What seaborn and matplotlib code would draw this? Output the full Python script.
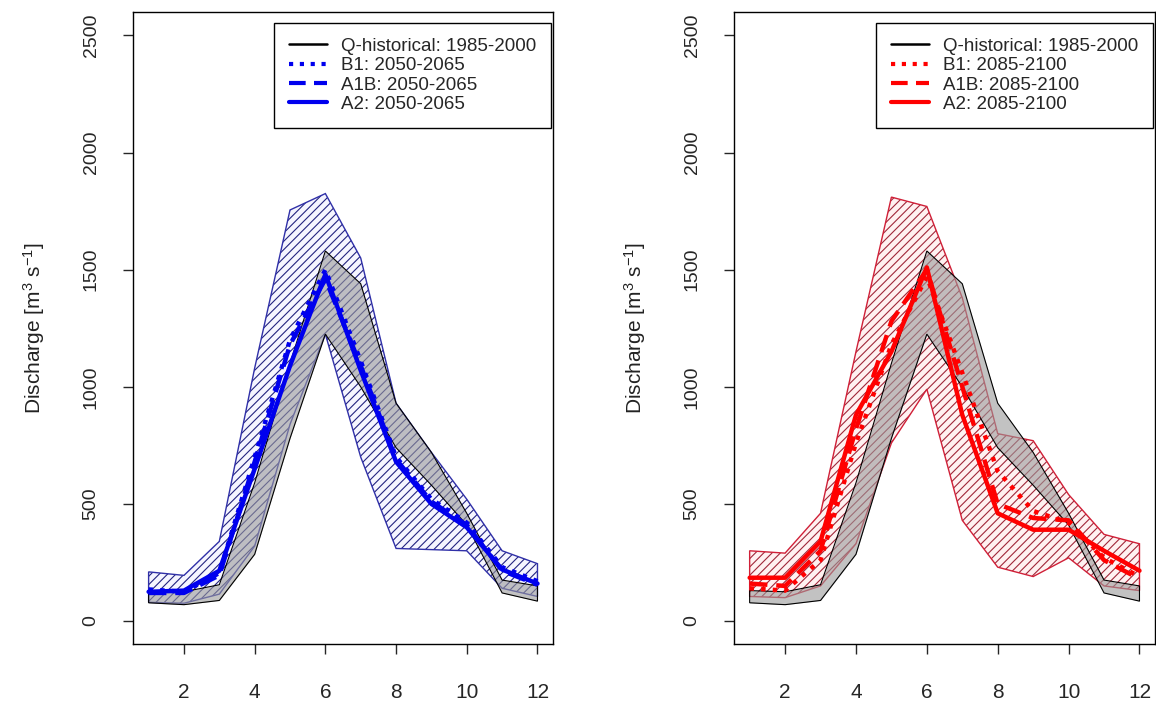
import numpy as np
import pandas as pd
import matplotlib
matplotlib.use("Agg")
import matplotlib.pyplot as plt
from matplotlib.lines import Line2D
import seaborn as sns

months = [1, 2, 3, 4, 5, 6, 7, 8, 9, 10, 11, 12]

# historical range (grey band)
hist_low = [78, 70, 88, 285, 780, 1225, 1000, 740, 580, 410, 120, 85]
hist_high = [130, 125, 155, 590, 1100, 1580, 1440, 930, 720, 460, 175, 150]

# 2050-2065 scenarios (left panel)
mid_low = [80, 76, 115, 320, 840, 1225, 700, 310, 305, 300, 140, 105]
mid_high = [210, 195, 340, 1080, 1755, 1825, 1550, 930, 720, 520, 300, 245]
mid_b1 = [135, 125, 205, 700, 1200, 1500, 1110, 700, 520, 420, 230, 170]
mid_a1b = [120, 120, 195, 680, 1180, 1460, 1090, 690, 510, 410, 215, 155]
mid_a2 = [125, 130, 215, 650, 1090, 1480, 1070, 680, 500, 400, 220, 160]

# 2085-2100 scenarios (right panel)
end_low = [105, 100, 150, 330, 760, 990, 430, 230, 190, 270, 150, 130]
end_high = [300, 290, 460, 1150, 1810, 1770, 1380, 800, 770, 540, 370, 330]
end_b1 = [140, 130, 260, 760, 1180, 1470, 1060, 640, 470, 420, 270, 190]
end_a1b = [160, 150, 300, 820, 1280, 1500, 1000, 500, 440, 430, 260, 180]
end_a2 = [185, 185, 340, 880, 1150, 1510, 880, 460, 390, 390, 300, 215]

hist_label = "Q-historical: 1985-2000"
scen_names = ["B1", "A1B", "A2"]
periods = ["2050-2065", "2085-2100"]

sns.set_theme(style="ticks")
plt.rcParams["font.family"] = ["Liberation Sans", "DejaVu Sans"]
plt.rcParams["hatch.linewidth"] = 0.8
plt.rcParams["mathtext.fontset"] = "custom"
plt.rcParams["mathtext.rm"] = "Liberation Sans"
plt.rcParams["mathtext.it"] = "Liberation Sans"

fig = plt.figure(figsize=(11.56, 7.09), dpi=100)
ax1 = fig.add_axes([0.1151, 0.091, 0.3633, 0.892])
ax2 = fig.add_axes([0.6350, 0.091, 0.3642, 0.892])

styles = [(0, (1, 1.6)), (0, (4, 2)), "-"]

panels = [
    (ax1, mid_low, mid_high, [mid_b1, mid_a1b, mid_a2], "#0000ee", "#3030a8", "#242480",
     (0.85, 0.86, 1.0, 0.25), periods[0]),
    (ax2, end_low, end_high, [end_b1, end_a1b, end_a2], "#ff0000", "#d02038", "#a0283a",
     (1.0, 0.85, 0.85, 0.35), periods[1]),
]

for ax, lo, hi, scen, col, ecol, hcol, fcol, per in panels:
    # scenario range, hatched
    ax.fill_between(months, lo, hi, facecolor=fcol, edgecolor=hcol, hatch="////",
                    linewidth=0, zorder=1)
    poly_x = months + months[::-1]
    poly_y = list(hi) + list(lo)[::-1]
    ax.fill(poly_x, poly_y, facecolor="none", edgecolor=ecol, linewidth=1.0, zorder=2)

    # historical range, grey
    ax.fill_between(months, hist_low, hist_high, color="#9a9a9a", alpha=0.6,
                    linewidth=0, zorder=3)
    hx = months + months[::-1]
    hy = hist_high + hist_low[::-1]
    ax.fill(hx, hy, facecolor="none", edgecolor="black", linewidth=0.8, zorder=4)

    for vals, ls in zip(scen, styles):
        df = pd.DataFrame({"month": months, "Q": vals})
        sns.lineplot(data=df, x="month", y="Q", ax=ax, color=col, linewidth=3.2,
                     linestyle=ls, zorder=5)

    ax.set_xlim(0.56, 12.44)
    ax.set_ylim(-100, 2600)
    ax.set_xticks([2, 4, 6, 8, 10, 12])
    ax.set_yticks([0, 500, 1000, 1500, 2000, 2500])
    ax.set_xlabel("")
    ax.set_ylabel("Discharge [m$^3$ s$^{-1}$]", fontsize=15, color="#222222")
    ax.yaxis.set_label_coords(-0.205, 0.5)
    ax.tick_params(axis="x", direction="out", length=7, width=1, pad=21, labelsize=15)
    ax.tick_params(axis="y", direction="out", length=7, width=1, pad=17, labelsize=14,
                   labelrotation=90)
    for t in ax.get_yticklabels():
        t.set_va("center")
    for s in ax.spines.values():
        s.set_visible(True)
        s.set_linewidth(1.0)
        s.set_color("black")

    handles = [Line2D([0], [0], color="black", linewidth=1.8)]
    for name, ls in zip(scen_names, styles):
        handles.append(Line2D([0], [0], color=col, linewidth=3, linestyle=ls))
    labels = [hist_label] + [f"{n}: {per}" for n in scen_names]
    leg = ax.legend(handles, labels, loc="upper right", bbox_to_anchor=(0.995, 0.983),
                    borderaxespad=0, fontsize=13.5, frameon=True, fancybox=False,
                    edgecolor="black", framealpha=1, handlelength=2.0,
                    handletextpad=0.75, labelspacing=0.12, borderpad=0.8)
    leg.get_frame().set_linewidth(1.0)

fig.savefig("out.png", dpi=100)
